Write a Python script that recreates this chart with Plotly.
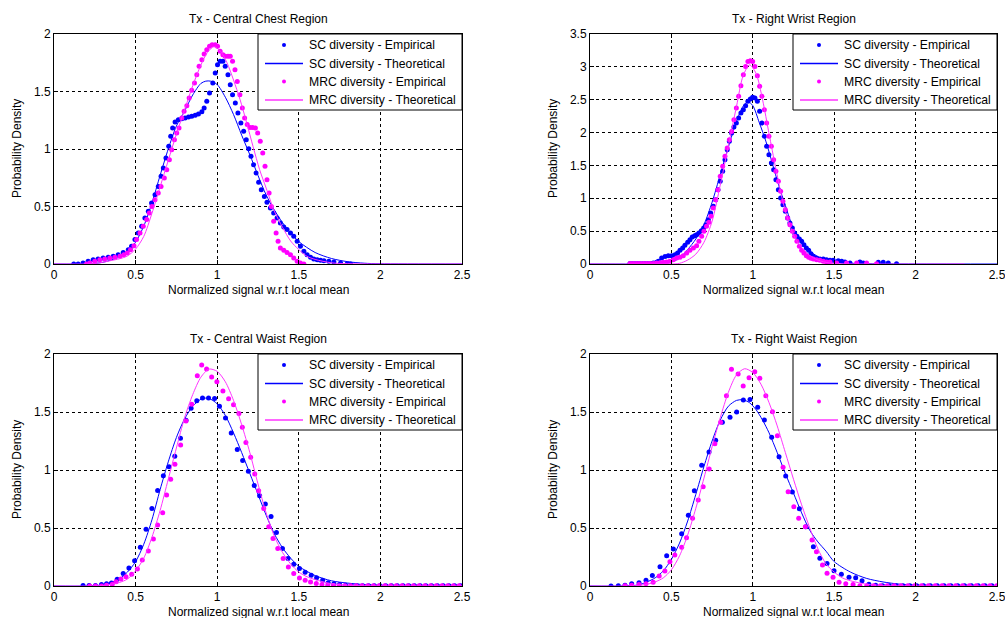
import plotly.graph_objects as go

# ---------------- tick values / labels ----------------
x_ticks = [0, 0.5, 1, 1.5, 2, 2.5]
x_tick_labels = ["0", "0.5", "1", "1.5", "2", "2.5"]
y_ticks_2 = [0, 0.5, 1, 1.5, 2]
y_tick_labels_2 = ["0", "0.5", "1", "1.5", "2"]
y_ticks_35 = [0, 0.5, 1, 1.5, 2, 2.5, 3, 3.5]
y_tick_labels_35 = ["0", "0.5", "1", "1.5", "2", "2.5", "3", "3.5"]

titles = ["Tx - Central Chest Region", "Tx - Right Wrist Region",
          "Tx - Central Waist Region", "Tx - Right Waist Region"]
series_names = ["SC diversity - Empirical", "SC diversity - Theoretical",
                "MRC diversity - Empirical", "MRC diversity - Theoretical"]
x_label = "Normalized signal w.r.t local mean"
y_label = "Probability Density"

# ---------------- Panel 1: Central Chest ----------------
chest_sc_emp_x = [0.121, 0.148, 0.178, 0.209, 0.240, 0.270, 0.301, 0.332, 0.363, 0.393, 0.424, 0.455,
                  0.475, 0.496, 0.516, 0.537, 0.557, 0.578, 0.598, 0.619, 0.639,
                  0.656, 0.670, 0.686, 0.703, 0.715, 0.727, 0.742,
                  0.762, 0.783, 0.803, 0.824, 0.844, 0.865, 0.885, 0.906,
                  0.920, 0.936, 0.953, 0.973, 0.988, 1.002, 1.018, 1.035, 1.049, 1.066, 1.080, 1.094,
                  1.111, 1.127, 1.145, 1.162, 1.178, 1.193, 1.207, 1.223, 1.238, 1.254, 1.270, 1.289,
                  1.305, 1.326, 1.346, 1.367, 1.387, 1.408, 1.428, 1.449, 1.469, 1.490, 1.510, 1.531,
                  1.551, 1.572, 1.592, 1.613, 1.633,
                  1.654, 1.684, 1.715, 1.756, 1.797, 1.818]
chest_sc_emp_y = [0, 0, 0.009, 0.023, 0.038, 0.043, 0.052, 0.058, 0.067, 0.081, 0.101, 0.125,
                  0.154, 0.212, 0.270, 0.328, 0.400, 0.458, 0.530, 0.603, 0.675,
                  0.762, 0.835, 0.922, 1.023, 1.110, 1.183, 1.235,
                  1.255, 1.264, 1.270, 1.278, 1.284, 1.293, 1.304, 1.325,
                  1.357, 1.415, 1.487, 1.574, 1.661, 1.733, 1.762, 1.762, 1.719, 1.646, 1.559, 1.472,
                  1.400, 1.313, 1.226, 1.154, 1.081, 1.003, 0.936, 0.864, 0.791, 0.710, 0.646, 0.588,
                  0.536, 0.487, 0.443, 0.400, 0.357, 0.322, 0.299, 0.270, 0.241, 0.197, 0.154, 0.110,
                  0.081, 0.058, 0.043, 0.038, 0.032,
                  0.029, 0.023, 0.017, 0.009, 0.003, 0]
chest_sc_th_x = [0, 0.2, 0.25, 0.3, 0.35, 0.4, 0.45, 0.5, 0.55, 0.6, 0.65, 0.7, 0.75, 0.8, 0.85, 0.9,
                 0.93, 0.96, 1.0, 1.05, 1.1, 1.15, 1.2, 1.25, 1.3, 1.35, 1.4, 1.45, 1.5, 1.6, 1.7,
                 1.8, 1.9, 2.0, 2.5]
chest_sc_th_y = [0, 0, 0.005, 0.015, 0.035, 0.06, 0.11, 0.19, 0.33, 0.53, 0.77, 1.0, 1.2, 1.33, 1.47, 1.57,
                 1.59, 1.59, 1.56, 1.45, 1.30, 1.12, 0.95, 0.77, 0.60, 0.47, 0.36, 0.27, 0.195, 0.1, 0.048,
                 0.02, 0.007, 0.002, 0]
chest_mrc_emp_x = [0.199, 0.219, 0.250, 0.281, 0.311, 0.342, 0.373, 0.404, 0.428, 0.449, 0.469, 0.490,
                   0.506, 0.527, 0.547, 0.568, 0.584, 0.600, 0.619, 0.639, 0.656, 0.676,
                   0.691, 0.707, 0.721, 0.738, 0.752, 0.766, 0.783, 0.797, 0.814, 0.828, 0.844, 0.861,
                   0.875, 0.889, 0.906, 0.920, 0.936, 0.953, 0.969, 0.988, 1.002, 1.018, 1.035, 1.049,
                   1.066, 1.080, 1.094, 1.109, 1.123, 1.139, 1.154, 1.168, 1.184, 1.201, 1.217, 1.234,
                   1.248, 1.264, 1.279, 1.293, 1.305, 1.318, 1.332, 1.346, 1.361, 1.373, 1.387, 1.408,
                   1.428, 1.449, 1.469, 1.490, 1.510, 1.531]
chest_mrc_emp_y = [0, 0.009, 0.023, 0.038, 0.043, 0.052, 0.058, 0.067, 0.081, 0.096, 0.125, 0.159,
                   0.212, 0.270, 0.328, 0.386, 0.443, 0.501, 0.559, 0.617, 0.675, 0.748,
                   0.820, 0.907, 0.994, 1.081, 1.139, 1.183, 1.270, 1.328, 1.377, 1.443, 1.510, 1.574,
                   1.646, 1.719, 1.777, 1.826, 1.864, 1.893, 1.907, 1.907, 1.893, 1.849, 1.820, 1.806,
                   1.806, 1.806, 1.762, 1.690, 1.588, 1.472, 1.357, 1.270, 1.212, 1.188, 1.188, 1.183,
                   1.139, 1.067, 0.965, 0.849, 0.733, 0.617, 0.501, 0.372, 0.270, 0.197, 0.139, 0.119,
                   0.101, 0.081, 0.052, 0.023, 0.009, 0]
chest_mrc_th_x = [0, 0.2, 0.25, 0.3, 0.35, 0.4, 0.45, 0.5, 0.55, 0.6, 0.65, 0.7, 0.75, 0.8, 0.85, 0.9,
                  0.94, 0.98, 1.02, 1.06, 1.1, 1.14, 1.18, 1.22, 1.26, 1.3, 1.35, 1.4, 1.45, 1.5, 1.55,
                  1.6, 1.7, 1.8, 2.5]
chest_mrc_th_y = [0, 0, 0.005, 0.015, 0.03, 0.045, 0.07, 0.13, 0.24, 0.44, 0.67, 0.9, 1.13, 1.34, 1.55, 1.73,
                  1.84, 1.89, 1.85, 1.75, 1.6, 1.43, 1.23, 1.02, 0.82, 0.66, 0.46, 0.32, 0.2, 0.125, 0.067,
                  0.04, 0.01, 0.003, 0]

# ---------------- Panel 2: Right Wrist ----------------
wrist_sc_emp_x = [0.246, 0.266, 0.287, 0.307, 0.328, 0.348, 0.368, 0.389, 0.409, 0.420, 0.440, 0.461, 0.481,
                  0.502, 0.522, 0.538, 0.553, 0.569, 0.583, 0.600, 0.614, 0.628, 0.643, 0.655, 0.669,
                  0.684, 0.698, 0.712, 0.727, 0.741, 0.758, 0.772, 0.786, 0.800, 0.815,
                  0.829, 0.843, 0.856, 0.870, 0.884, 0.899, 0.913, 0.927, 0.942, 0.956,
                  0.970, 0.985, 0.999, 1.013, 1.028, 1.042, 1.056, 1.071, 1.085, 1.099,
                  1.114, 1.128, 1.142, 1.157, 1.171, 1.185, 1.200, 1.214, 1.228, 1.243,
                  1.257, 1.271, 1.286, 1.300, 1.314, 1.329, 1.343, 1.357, 1.372, 1.392,
                  1.412, 1.433, 1.453, 1.474, 1.494, 1.525, 1.546, 1.566, 1.597, 1.658,
                  1.679, 1.771, 1.801, 1.832, 1.883]
wrist_sc_emp_y = [0.008, 0.008, 0.008, 0.008, 0.008, 0.008, 0.008, 0.015, 0.025, 0.04, 0.09, 0.115, 0.127,
                  0.127, 0.142, 0.167, 0.208, 0.243, 0.284, 0.330, 0.370, 0.411, 0.431, 0.446, 0.472,
                  0.507, 0.548, 0.598, 0.675, 0.776, 0.877, 0.978, 1.131, 1.258, 1.410,
                  1.588, 1.740, 1.867, 1.993, 2.084, 2.145, 2.221, 2.297, 2.348, 2.409,
                  2.475, 2.511, 2.536, 2.526, 2.475, 2.323, 2.145, 1.943, 1.790, 1.664,
                  1.537, 1.435, 1.283, 1.131, 1.004, 0.903, 0.801, 0.700, 0.624, 0.548,
                  0.472, 0.421, 0.380, 0.345, 0.294, 0.243, 0.208, 0.157, 0.116, 0.091,
                  0.076, 0.076, 0.066, 0.056, 0.056, 0.051, 0.041, 0.030, 0.015, 0.030,
                  0.015, 0.025, 0.025, 0.015, 0.005]
wrist_sc_th_x = [0, 0.4, 0.45, 0.5, 0.55, 0.6, 0.65, 0.7, 0.75, 0.8, 0.85, 0.9, 0.94, 0.97, 1.0, 1.04,
                 1.08, 1.12, 1.16, 1.2, 1.25, 1.3, 1.35, 1.4, 1.45, 1.5, 1.6, 1.7, 2.5]
wrist_sc_th_y = [0, 0, 0.005, 0.03, 0.09, 0.22, 0.38, 0.6, 0.94, 1.36, 1.78, 2.17, 2.4, 2.47, 2.41, 2.15,
                 1.87, 1.53, 1.19, 0.89, 0.53, 0.31, 0.2, 0.11, 0.06, 0.03, 0.012, 0.004, 0]
wrist_mrc_emp_x = [0.246, 0.266, 0.287, 0.307, 0.328, 0.348, 0.368, 0.389, 0.409, 0.430, 0.450,
                   0.471, 0.491, 0.512, 0.532, 0.553, 0.573,
                   0.594, 0.614, 0.635, 0.655, 0.669, 0.686, 0.700, 0.716, 0.731, 0.743,
                   0.757, 0.772, 0.786, 0.800, 0.815, 0.829, 0.843, 0.856, 0.870, 0.884,
                   0.899, 0.913, 0.927, 0.942, 0.956, 0.970, 0.985, 0.999, 1.013, 1.028,
                   1.042, 1.056, 1.071, 1.085, 1.099, 1.114, 1.128, 1.142, 1.157, 1.171,
                   1.185, 1.200, 1.214, 1.228, 1.243, 1.257, 1.271, 1.286, 1.300, 1.314,
                   1.329, 1.343, 1.357, 1.372, 1.392, 1.412, 1.433, 1.453, 1.474, 1.515,
                   1.576, 1.638, 1.699, 1.760]
wrist_mrc_emp_y = [0.008, 0.008, 0.008, 0.008, 0.008, 0.008, 0.008, 0.008, 0.015, 0.02, 0.025,
                   0.030, 0.041, 0.066, 0.091, 0.101, 0.127,
                   0.167, 0.208, 0.243, 0.279, 0.345, 0.421, 0.497, 0.573, 0.634, 0.725,
                   0.852, 0.978, 1.131, 1.334, 1.486, 1.638, 1.765, 1.892, 2.018, 2.196,
                   2.373, 2.551, 2.713, 2.880, 3.007, 3.083, 3.093, 3.083, 3.007, 2.865,
                   2.703, 2.551, 2.348, 2.145, 1.943, 1.790, 1.588, 1.410, 1.258, 1.106,
                   0.953, 0.827, 0.700, 0.598, 0.497, 0.421, 0.345, 0.269, 0.208, 0.167,
                   0.127, 0.101, 0.086, 0.076, 0.066, 0.056, 0.041, 0.030, 0.030, 0.015,
                   0.015, 0.015, 0.015, 0.005]
wrist_mrc_th_x = [0, 0.5, 0.55, 0.6, 0.65, 0.7, 0.75, 0.8, 0.85, 0.9, 0.94, 0.98, 1.02, 1.06, 1.1,
                  1.14, 1.18, 1.22, 1.26, 1.3, 1.35, 1.4, 1.47, 1.55, 2.3]
wrist_mrc_th_y = [0, 0, 0.01, 0.06, 0.15, 0.33, 0.65, 1.2, 1.8, 2.4, 2.86, 3.03, 2.9, 2.5, 1.98,
                  1.47, 1.0, 0.64, 0.39, 0.25, 0.13, 0.06, 0.015, 0.003, 0]

# ---------------- Panel 3: Central Waist ----------------
cwaist_sc_emp_x = [0.178, 0.215, 0.254, 0.291, 0.322, 0.352, 0.387, 0.424, 0.459, 0.494,
                   0.529, 0.564, 0.600, 0.635, 0.670, 0.705, 0.740, 0.775, 0.809, 0.840,
                   0.875, 0.910, 0.947, 0.984, 1.014, 1.051, 1.086, 1.123, 1.156, 1.191,
                   1.227, 1.260, 1.295, 1.330, 1.363, 1.400, 1.434, 1.469, 1.504, 1.539,
                   1.576, 1.609, 1.646, 1.680, 1.715, 1.750, 1.787,
                   1.822, 1.857, 1.892, 1.928, 1.963, 1.998, 2.033, 2.068, 2.104, 2.139,
                   2.174, 2.209, 2.244, 2.279, 2.314, 2.350, 2.385, 2.420, 2.455, 2.490]
cwaist_sc_emp_y = [0.005, 0.005, 0.005, 0.012, 0.020, 0.026, 0.058, 0.107, 0.156, 0.217,
                   0.334, 0.490, 0.669, 0.824, 0.951, 1.029, 1.118, 1.274, 1.429, 1.533,
                   1.597, 1.620, 1.620, 1.617, 1.550, 1.449, 1.320, 1.176, 1.081, 0.989,
                   0.867, 0.778, 0.706, 0.599, 0.461, 0.323, 0.236, 0.187, 0.150, 0.118,
                   0.092, 0.072, 0.049, 0.029, 0.020, 0.012, 0.006,
                   0.003, 0.003, 0.003, 0.003, 0.003, 0.003, 0.003, 0.003, 0.003, 0.003,
                   0.003, 0.003, 0.003, 0.003, 0.003, 0.003, 0.003, 0.003, 0.003, 0.003]
cwaist_sc_th_x = [0, 0.2, 0.3, 0.35, 0.4, 0.45, 0.5, 0.55, 0.6, 0.65, 0.7, 0.75, 0.8, 0.85, 0.9, 0.93,
                  0.96, 1.0, 1.05, 1.1, 1.15, 1.2, 1.25, 1.3, 1.35, 1.4, 1.45, 1.5, 1.6, 1.7, 1.8, 1.9,
                  2.0, 2.2, 2.5]
cwaist_sc_th_y = [0, 0, 0.01, 0.03, 0.06, 0.12, 0.21, 0.36, 0.57, 0.83, 1.07, 1.28, 1.44, 1.55, 1.61, 1.62,
                  1.61, 1.57, 1.47, 1.32, 1.15, 0.97, 0.79, 0.61, 0.45, 0.33, 0.24, 0.17, 0.09, 0.045,
                  0.025, 0.012, 0.005, 0.001, 0]
cwaist_mrc_emp_x = [0.219, 0.254, 0.291, 0.322, 0.357, 0.380, 0.410, 0.441, 0.476, 0.511,
                    0.541, 0.578, 0.609, 0.635, 0.666, 0.690, 0.715, 0.741, 0.776, 0.809,
                    0.844, 0.878, 0.905, 0.935, 0.966, 0.998, 1.035, 1.070, 1.100, 1.133,
                    1.154, 1.176, 1.205, 1.230, 1.254, 1.285, 1.316, 1.342, 1.371, 1.404,
                    1.436, 1.469, 1.504, 1.539, 1.572, 1.607, 1.642, 1.677, 1.712,
                    1.747, 1.782, 1.817, 1.852, 1.887, 1.922, 1.957, 1.992, 2.027, 2.062, 2.097,
                    2.132, 2.167, 2.202, 2.237, 2.272, 2.307, 2.342, 2.377, 2.412, 2.447, 2.482]
cwaist_mrc_emp_y = [0, 0, 0, 0.006, 0.015, 0.037, 0.06, 0.080, 0.101, 0.147,
                    0.224, 0.302, 0.405, 0.526, 0.632, 0.784, 0.92, 1.049, 1.216, 1.422,
                    1.566, 1.813, 1.905, 1.870, 1.801, 1.761, 1.680, 1.614, 1.562, 1.487,
                    1.369, 1.236, 1.110, 0.965, 0.821, 0.669, 0.510, 0.409, 0.323, 0.236,
                    0.164, 0.107, 0.069, 0.049, 0.035, 0.022, 0.012, 0.007, 0.004,
                    0.003, 0.003, 0.003, 0.003, 0.003, 0.003, 0.003, 0.003, 0.003, 0.003, 0.003,
                    0.003, 0.003, 0.003, 0.003, 0.003, 0.003, 0.003, 0.003, 0.003, 0.003, 0.003]
cwaist_mrc_th_x = [0, 0.25, 0.3, 0.35, 0.4, 0.45, 0.5, 0.55, 0.6, 0.65, 0.7, 0.75, 0.8, 0.85, 0.9, 0.95,
                   1.0, 1.05, 1.1, 1.15, 1.2, 1.25, 1.3, 1.35, 1.4, 1.45, 1.5, 1.55, 1.6, 1.7, 1.8, 1.9,
                   2.5]
cwaist_mrc_th_y = [0, 0, 0.005, 0.015, 0.03, 0.06, 0.13, 0.24, 0.42, 0.65, 0.92, 1.19, 1.45, 1.65, 1.80, 1.87,
                   1.85, 1.76, 1.60, 1.39, 1.15, 0.88, 0.63, 0.43, 0.29, 0.19, 0.12, 0.08, 0.055, 0.02,
                   0.007, 0.002, 0]

# ---------------- Panel 4: Right Waist ----------------
rwaist_sc_emp_x = [0.129, 0.174, 0.215, 0.256, 0.301, 0.344, 0.383, 0.430, 0.471, 0.512,
                   0.563, 0.604, 0.641, 0.686, 0.731, 0.772, 0.813, 0.860, 0.901, 0.942,
                   0.983, 1.030, 1.071, 1.116, 1.161, 1.202, 1.243, 1.286, 1.326, 1.372,
                   1.412, 1.456, 1.499, 1.544, 1.591, 1.632, 1.671, 1.713, 1.755,
                   1.797, 1.839, 1.881, 1.923, 1.965, 2.007, 2.049, 2.091, 2.133, 2.175,
                   2.217, 2.259, 2.301, 2.343, 2.385, 2.427, 2.469]
rwaist_sc_emp_y = [0, 0.003, 0.006, 0.020, 0.029, 0.049, 0.090, 0.165, 0.260, 0.320,
                   0.450, 0.610, 0.822, 1.040, 1.155, 1.257, 1.412, 1.455, 1.500, 1.604,
                   1.607, 1.540, 1.432, 1.282, 1.115, 0.948, 0.810, 0.667, 0.510, 0.338,
                   0.240, 0.195, 0.132, 0.101, 0.075, 0.072, 0.046, 0.015, 0.006,
                   0.003, 0.003, 0.003, 0.003, 0.003, 0.003, 0.003, 0.003, 0.003, 0.003,
                   0.003, 0.003, 0.003, 0.003, 0.003, 0.003, 0.003]
rwaist_sc_th_x = [0, 0.2, 0.3, 0.35, 0.4, 0.45, 0.5, 0.55, 0.6, 0.65, 0.7, 0.75, 0.8, 0.85, 0.9, 0.94,
                  0.98, 1.02, 1.06, 1.1, 1.15, 1.2, 1.25, 1.3, 1.35, 1.4, 1.45, 1.5, 1.6, 1.7, 1.8, 1.9,
                  2.0, 2.2, 2.5]
rwaist_sc_th_y = [0, 0, 0.01, 0.035, 0.07, 0.13, 0.23, 0.37, 0.56, 0.79, 1.03, 1.25, 1.43, 1.55, 1.60, 1.605,
                  1.58, 1.52, 1.43, 1.32, 1.15, 0.97, 0.8, 0.63, 0.48, 0.38, 0.3, 0.21, 0.12, 0.065,
                  0.035, 0.016, 0.007, 0.002, 0]
rwaist_mrc_emp_x = [0.215, 0.256, 0.301, 0.344, 0.388, 0.425, 0.460, 0.491, 0.521, 0.563,
                    0.593, 0.630, 0.665, 0.695, 0.732, 0.767, 0.802, 0.838, 0.869, 0.910,
                    0.941, 0.977, 1.012, 1.043, 1.080, 1.121, 1.151, 1.186, 1.217, 1.252,
                    1.282, 1.323, 1.364, 1.391, 1.428, 1.456, 1.493, 1.530, 1.571, 1.616,
                    1.658, 1.700, 1.742, 1.784, 1.826, 1.868, 1.910, 1.952, 1.994, 2.036, 2.078,
                    2.120, 2.162, 2.204, 2.246, 2.288, 2.330, 2.372, 2.414, 2.456, 2.498]
rwaist_mrc_emp_y = [0.003, 0.006, 0.012, 0.020, 0.032, 0.086, 0.129, 0.210, 0.267, 0.333,
                    0.417, 0.583, 0.741, 0.856, 1.009, 1.227, 1.411, 1.641, 1.868, 1.828,
                    1.724, 1.796, 1.848, 1.790, 1.641, 1.503, 1.296, 1.023, 0.813, 0.684,
                    0.583, 0.511, 0.397, 0.296, 0.181, 0.109, 0.075, 0.032, 0.020, 0.014,
                    0.003, 0.003, 0.003, 0.003, 0.003, 0.003, 0.003, 0.003, 0.003, 0.003, 0.003,
                    0.003, 0.003, 0.003, 0.003, 0.003, 0.003, 0.003, 0.003, 0.003, 0.003]
rwaist_mrc_th_x = [0, 0.25, 0.3, 0.35, 0.4, 0.45, 0.5, 0.55, 0.6, 0.65, 0.7, 0.75, 0.8, 0.85, 0.9, 0.95,
                   1.0, 1.05, 1.1, 1.15, 1.2, 1.25, 1.3, 1.35, 1.4, 1.45, 1.5, 1.55, 1.6, 1.7, 1.8, 1.9,
                   2.5]
rwaist_mrc_th_y = [0, 0, 0.005, 0.015, 0.035, 0.07, 0.14, 0.26, 0.44, 0.67, 0.93, 1.2, 1.45, 1.67, 1.82, 1.873,
                   1.84, 1.74, 1.58, 1.38, 1.15, 0.92, 0.70, 0.50, 0.32, 0.19, 0.12, 0.07, 0.045, 0.015,
                   0.005, 0.001, 0]

panels = [
    (chest_sc_emp_x, chest_sc_emp_y, chest_sc_th_x, chest_sc_th_y,
     chest_mrc_emp_x, chest_mrc_emp_y, chest_mrc_th_x, chest_mrc_th_y),
    (wrist_sc_emp_x, wrist_sc_emp_y, wrist_sc_th_x, wrist_sc_th_y,
     wrist_mrc_emp_x, wrist_mrc_emp_y, wrist_mrc_th_x, wrist_mrc_th_y),
    (cwaist_sc_emp_x, cwaist_sc_emp_y, cwaist_sc_th_x, cwaist_sc_th_y,
     cwaist_mrc_emp_x, cwaist_mrc_emp_y, cwaist_mrc_th_x, cwaist_mrc_th_y),
    (rwaist_sc_emp_x, rwaist_sc_emp_y, rwaist_sc_th_x, rwaist_sc_th_y,
     rwaist_mrc_emp_x, rwaist_mrc_emp_y, rwaist_mrc_th_x, rwaist_mrc_th_y),
]

# ---------------- layout geometry (pixels) ----------------
W, H = 1005, 618
FONT = "Liberation Sans, Arial, sans-serif"
BLUE = "#0000ff"
MAG = "#ff00ff"
MAG_LINE = "#ff33ff"
series_styles = [("marker", BLUE), ("line", BLUE), ("marker", MAG), ("line", MAG_LINE)]

# plot area boxes: (left, right, top, bottom) in px
boxes = [(54, 462, 34, 264), (590, 997, 34, 264), (54, 462, 354, 586), (590, 997, 354, 586)]
y_ranges = [[0, 2], [0, 3.5], [0, 2], [0, 2]]
y_tick_sets = [(y_ticks_2, y_tick_labels_2), (y_ticks_35, y_tick_labels_35),
               (y_ticks_2, y_tick_labels_2), (y_ticks_2, y_tick_labels_2)]

# legend box geometry relative to plot area's top-right corner (px)
LEG_W, LEG_H = 204, 76
LEG_ROWS = [11, 29.5, 47.5, 66]
LEG_SAMPLE = (197, 159)   # line sample from r-197 to r-159
LEG_DOT = 178
LEG_TEXT = 155


def px(xp):
    return xp / W


def py(yp):
    return 1 - yp / H


fig = go.Figure()
layout = dict(width=W, height=H, margin=dict(l=0, r=0, t=0, b=0, autoexpand=False), autosize=False,
              paper_bgcolor="white", plot_bgcolor="white",
              font=dict(family=FONT, size=12, color="black"), showlegend=False)
annotations = []
shapes = []

for i, (box, data) in enumerate(zip(boxes, panels)):
    l, r, t, b = box
    n = "" if i == 0 else str(i + 1)
    xa, ya = "x" + n, "y" + n
    sx, sy, tx, ty, mx, my, ux, uy = data
    fig.add_trace(go.Scatter(x=sx, y=sy, mode="markers", name=series_names[0],
                             marker=dict(symbol="circle", size=5, color=BLUE),
                             xaxis=xa, yaxis=ya))
    fig.add_trace(go.Scatter(x=tx, y=ty, mode="lines", name=series_names[1],
                             line=dict(color=BLUE, width=1, shape="spline", smoothing=0.8),
                             xaxis=xa, yaxis=ya))
    fig.add_trace(go.Scatter(x=mx, y=my, mode="markers", name=series_names[2],
                             marker=dict(symbol="circle", size=5, color=MAG),
                             xaxis=xa, yaxis=ya))
    fig.add_trace(go.Scatter(x=ux, y=uy, mode="lines", name=series_names[3],
                             line=dict(color=MAG_LINE, width=1, shape="spline", smoothing=0.8),
                             xaxis=xa, yaxis=ya))

    common = dict(showgrid=True, gridcolor="black", griddash="dot", gridwidth=1,
                  showline=True, linecolor="black", linewidth=1, mirror="ticks",
                  ticks="inside", ticklen=4, tickcolor="black", zeroline=False,
                  automargin=False, ticklabeloverflow="allow",
                  tickfont=dict(family=FONT, size=12, color="black"), fixedrange=True)
    layout["xaxis" + n] = dict(common, domain=[px(l), px(r)], range=[0, 2.5],
                               tickvals=x_ticks, ticktext=x_tick_labels, anchor=ya)
    yt, yl = y_tick_sets[i]
    layout["yaxis" + n] = dict(common, domain=[py(b), py(t)], range=y_ranges[i],
                               tickvals=yt, ticktext=yl, anchor=xa)

    # ---- legend box (drawn on top of the data) ----
    shapes.append(dict(type="rect", xref="paper", yref="paper",
                       x0=px(r - LEG_W), x1=px(r), y0=py(t + LEG_H), y1=py(t),
                       fillcolor="white", line=dict(color="black", width=1), layer="above"))
    for k, (kind, col) in enumerate(series_styles):
        yc = t + LEG_ROWS[k]
        if kind == "line":
            shapes.append(dict(type="line", xref="paper", yref="paper",
                               x0=px(r - LEG_SAMPLE[0]), x1=px(r - LEG_SAMPLE[1]),
                               y0=py(yc), y1=py(yc), line=dict(color=col, width=1.3), layer="above"))
        else:
            shapes.append(dict(type="circle", xref="paper", yref="paper",
                               x0=px(r - LEG_DOT - 2), x1=px(r - LEG_DOT + 2),
                               y0=py(yc + 2), y1=py(yc - 2),
                               fillcolor=col, line=dict(color=col, width=0), layer="above"))
        annotations.append(dict(text=series_names[k], x=px(r - LEG_TEXT), y=py(yc),
                                xref="paper", yref="paper", showarrow=False,
                                xanchor="left", yanchor="middle",
                                font=dict(family=FONT, size=12.2, color="black")))

    cx = px((l + r) / 2)
    annotations.append(dict(text=titles[i], x=cx, y=py(t - 15), xref="paper", yref="paper",
                            showarrow=False, xanchor="center", yanchor="middle",
                            font=dict(family=FONT, size=12, color="black")))
    annotations.append(dict(text=x_label, x=cx, y=py(b + 26), xref="paper", yref="paper",
                            showarrow=False, xanchor="center", yanchor="middle",
                            font=dict(family=FONT, size=12, color="black")))
    annotations.append(dict(text=y_label, x=px(l - 37), y=py((t + b) / 2), xref="paper", yref="paper",
                            showarrow=False, xanchor="center", yanchor="middle", textangle=-90,
                            font=dict(family=FONT, size=12, color="black")))

layout["annotations"] = annotations
layout["shapes"] = shapes
fig.update_layout(**layout)
fig.write_html("out.html", config={"displayModeBar": False},
               post_script="document.body.style.margin='0px';document.body.style.overflow='hidden';")
